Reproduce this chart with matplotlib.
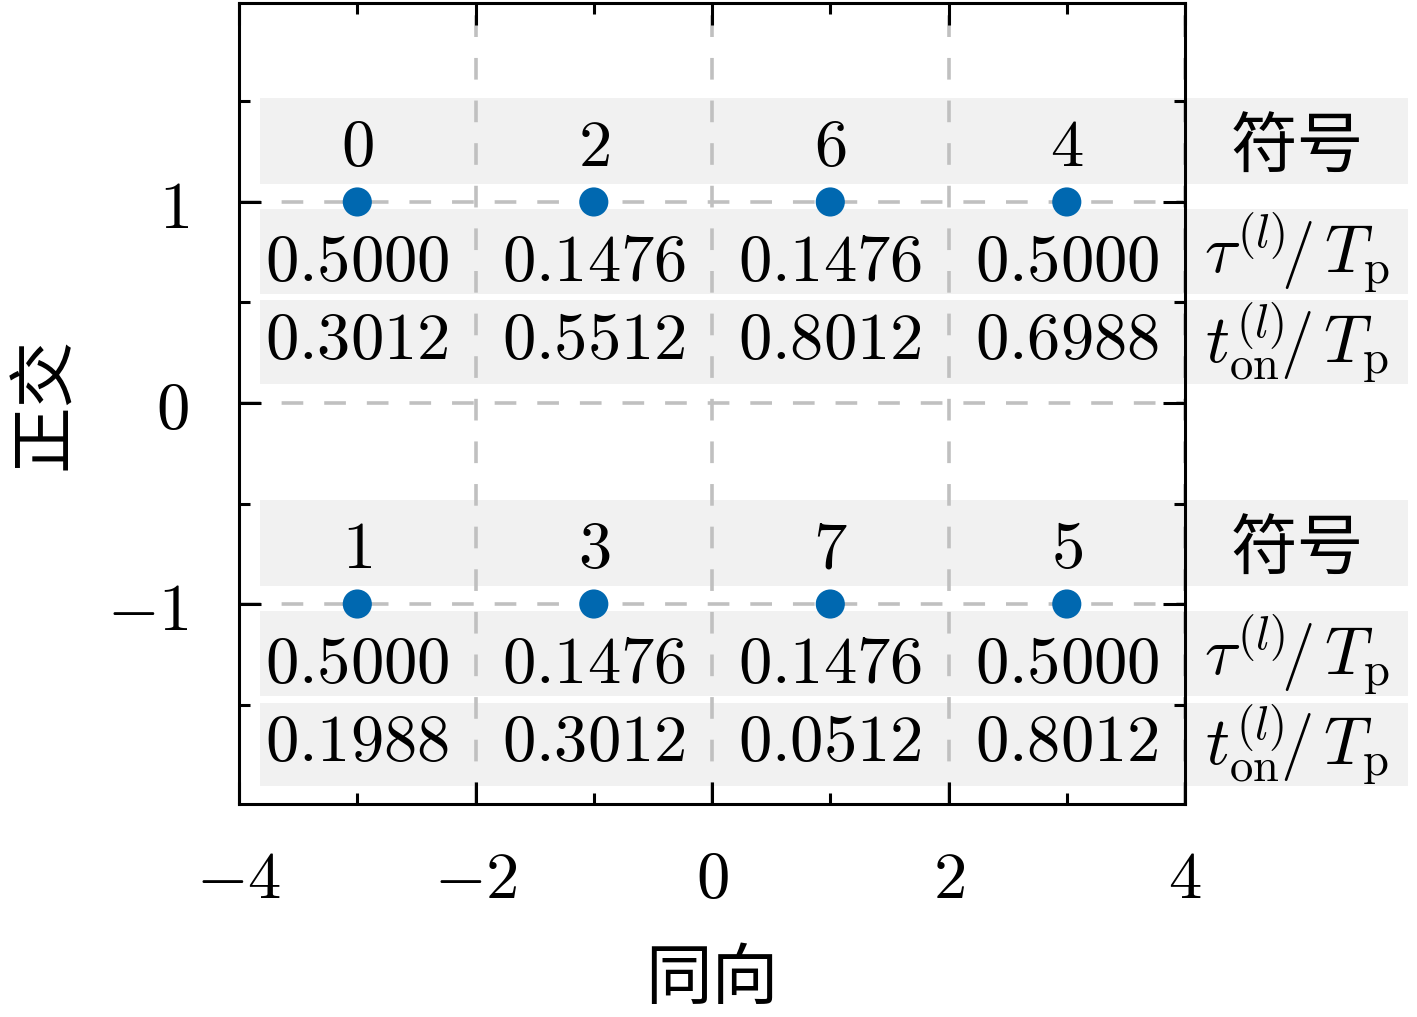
import matplotlib
matplotlib.use('Agg')
import matplotlib.pyplot as plt
from matplotlib.patches import Rectangle
from matplotlib.ticker import FixedLocator, FuncFormatter

plt.rcParams['mathtext.fontset'] = 'cm'
plt.rcParams['font.family'] = ['Noto Sans CJK SC', 'DejaVu Sans']

# constellation data
cols_x = [-3, -1, 1, 3]
rows_y = [1, -1]
symbols = [[0, 2, 6, 4], [1, 3, 7, 5]]
tau = [[0.5000, 0.1476, 0.1476, 0.5000], [0.5000, 0.1476, 0.1476, 0.5000]]
t_on = [[0.3012, 0.5512, 0.8012, 0.6988], [0.1988, 0.3012, 0.0512, 0.8012]]
row_labels = ['符号', r'$\tau^{(l)}\!/\,T_\mathrm{p}$', r'$t_\mathrm{on}^{(l)}\!/\,T_\mathrm{p}$']

blue = '#0068b0'
band = '#f1f1f1'
fs = 24

fig = plt.figure(figsize=(7.085, 5.085), dpi=200)
ax = fig.add_axes([0.1687, 0.2094, 0.6676, 0.7877])

ax.set_xlim(-4, 4)
ax.set_ylim(-1.995, 1.99)

# grey bands behind the table rows (symbol / tau / t_on)
band_lo = [0.09, -0.46, -0.905]
band_hi = [0.515, -0.035, -0.49]
text_off = [0.27, -0.30, -0.69]
label_off = [0.27, -0.25, -0.70]

for r, y0 in enumerate(rows_y):
    for k in range(3):
        ax.add_patch(Rectangle((-3.82, y0 + band_lo[k]), 9.706, band_hi[k] - band_lo[k],
                               facecolor=band, edgecolor='none', clip_on=False, zorder=0.2))
    ax.scatter(cols_x, [y0] * len(cols_x), s=110, color=blue, zorder=3, edgecolors='none')
    for i, x in enumerate(cols_x):
        ax.text(x, y0 + text_off[0], f'${symbols[r][i]}$', fontsize=fs,
                ha='center', va='center', zorder=4)
        ax.text(x, y0 + text_off[1], f'${tau[r][i]:.4f}$', fontsize=fs,
                ha='center', va='center', zorder=4)
        ax.text(x, y0 + text_off[2], f'${t_on[r][i]:.4f}$', fontsize=fs,
                ha='center', va='center', zorder=4)
    for k in range(3):
        ax.text(4.95, y0 + label_off[k], row_labels[k], fontsize=fs,
                ha='center', va='center', clip_on=False, zorder=4)

# ticks and grid
ax.xaxis.set_major_locator(FixedLocator([-4, -2, 0, 2, 4]))
ax.xaxis.set_minor_locator(FixedLocator([-3, -1, 1, 3]))
ax.yaxis.set_major_locator(FixedLocator([-1, 0, 1]))
ax.yaxis.set_minor_locator(FixedLocator([-1.5, -0.5, 0.5, 1.5]))
fmt = FuncFormatter(lambda v, p: f'${v:g}$')
ax.xaxis.set_major_formatter(fmt)
ax.yaxis.set_major_formatter(fmt)

ax.tick_params(which='both', direction='in', top=True, right=True, width=1.1,
               labelsize=fs)
ax.tick_params(which='major', length=8)
ax.tick_params(which='minor', length=4)
ax.tick_params(axis='x', which='major', pad=15)
ax.tick_params(axis='y', which='major', pad=18)
for s in ax.spines.values():
    s.set_linewidth(1.1)

ax.grid(True, which='major', color='#c0c0c0', linewidth=1.3, linestyle=(0, (6.0, 5.8)))

ax.set_xlabel('同向', fontsize=fs, labelpad=12)
ax.set_ylabel('正交', fontsize=fs, labelpad=10)

fig.savefig('out.png', dpi=200)
